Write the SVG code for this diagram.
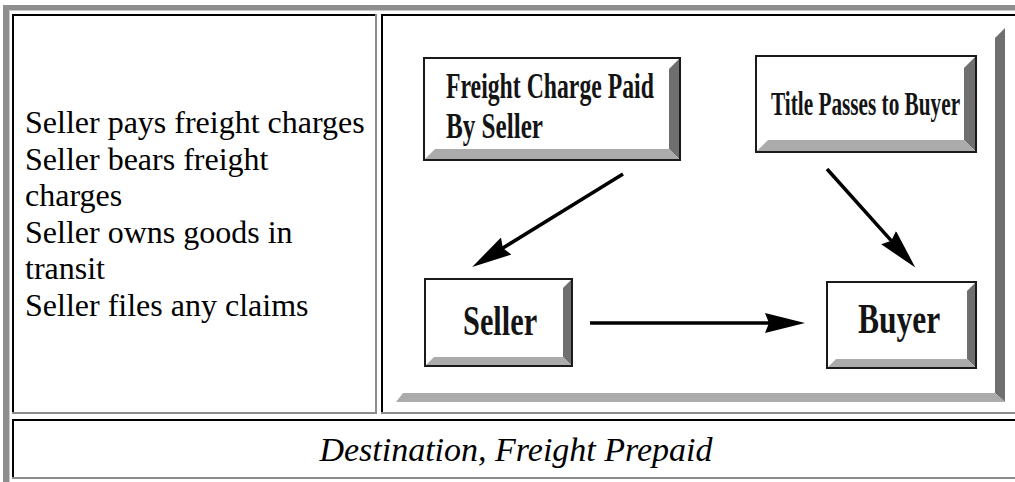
<svg xmlns="http://www.w3.org/2000/svg" width="1015" height="482" viewBox="0 0 1015 482">
<defs>
<style>
.txt{font-family:"Liberation Serif","Times New Roman",serif;font-size:32px;fill:#000}
.cap{font-style:italic;font-size:34px}
.box{fill:#fff;stroke:#1a1a1a;stroke-width:2}
.edge{fill:none;stroke:#1a1a1a;stroke-width:2}
.bevD{fill:#6f6f6f}
.bevL{fill:#ababab}
.lbl{font-family:"Liberation Serif","Times New Roman",serif;font-weight:bold;fill:#141414}
.conn{stroke:#000;stroke-width:3.5;fill:none;marker-end:url(#ah)}
.bk{fill:#000}
.gr{fill:#8c8c8c}
.og{fill:#8e8e8e}
</style>
<marker id="ah" markerUnits="userSpaceOnUse" markerWidth="40" markerHeight="20" viewBox="0 0 40 20" refX="12" refY="10" orient="auto"><path d="M0,0 L40,10 L0,20 L4,10 Z" fill="#000"/></marker>
</defs>
<rect width="1015" height="482" fill="#fff"/>
<g id="table">
<rect class="og" x="3" y="5" width="1012" height="5"/>
<rect class="og" x="3" y="5" width="6" height="477"/>
<rect x="9" y="10" width="1" height="472" fill="#c8c8c8"/>
<rect x="9" y="10" width="1006" height="1" fill="#c8c8c8"/>
<rect class="bk" x="12" y="14" width="2" height="400"/>
<rect class="bk" x="12" y="14" width="365" height="2"/>
<rect class="gr" x="375" y="14" width="2" height="400"/>
<rect class="gr" x="12" y="412" width="365" height="2"/>
<rect class="bk" x="381" y="14" width="2" height="400"/>
<rect class="bk" x="381" y="14" width="634" height="2"/>
<rect class="gr" x="381" y="412" width="634" height="2"/>
<rect class="bk" x="12" y="419" width="2" height="60"/>
<rect class="bk" x="12" y="419" width="1003" height="2"/>
<rect class="gr" x="12" y="477" width="1003" height="2"/>
</g>
<g id="terms">
<text class="txt" x="25" y="133">Seller pays freight charges</text>
<text class="txt" x="25" y="169.5">Seller bears freight</text>
<text class="txt" x="25" y="206">charges</text>
<text class="txt" x="25" y="242.5">Seller owns goods in</text>
<text class="txt" x="25" y="279">transit</text>
<text class="txt" x="25" y="315.5">Seller files any claims</text>
</g>
<g id="caption">
<text class="txt cap" x="516" y="461" text-anchor="middle">Destination, Freight Prepaid</text>
</g>
<g id="frame">
<polygon class="bevD" points="995,38 1005,28 1005,402 995,393"/>
<polygon class="bevL" points="396,402 1005,402 995,393 403,393"/>
</g>
<g id="freight">
<rect class="box" x="424" y="58" width="256" height="102"/>
<polygon class="bevD" points="680,58 680,160 669,149 669,69"/>
<polygon class="bevL" points="424,160 680,160 669,149 435,149"/>
<rect class="edge" x="424" y="58" width="256" height="102"/>
<text class="lbl" font-size="36" transform="translate(446 98) scale(0.66 1)" textLength="315" lengthAdjust="spacingAndGlyphs">Freight Charge Paid</text>
<text class="lbl" font-size="36" transform="translate(446 138) scale(0.66 1)" textLength="147" lengthAdjust="spacingAndGlyphs">By Seller</text>
</g>
<g id="title">
<rect class="box" x="756" y="56" width="220" height="96"/>
<polygon class="bevD" points="976,56 976,152 964,140 964,68"/>
<polygon class="bevL" points="756,152 976,152 964,140 768,140"/>
<rect class="edge" x="756" y="56" width="220" height="96"/>
<text class="lbl" font-size="34" transform="translate(771 115) scale(0.624 1)" textLength="303" lengthAdjust="spacingAndGlyphs">Title Passes to Buyer</text>
</g>
<g id="seller">
<rect class="box" x="425" y="279" width="147" height="87"/>
<polygon class="bevD" points="572,279 572,366 563,357 563,288"/>
<polygon class="bevL" points="425,366 572,366 563,357 434,357"/>
<rect class="edge" x="425" y="279" width="147" height="87"/>
<text class="lbl" font-size="42" transform="translate(463 335) scale(0.72 1)" textLength="103" lengthAdjust="spacingAndGlyphs">Seller</text>
</g>
<g id="buyer">
<rect class="box" x="827" y="282" width="149" height="86"/>
<polygon class="bevD" points="976,282 976,368 967,359 967,291"/>
<polygon class="bevL" points="827,368 976,368 967,359 836,359"/>
<rect class="edge" x="827" y="282" width="149" height="86"/>
<text class="lbl" font-size="42" transform="translate(858 333) scale(0.748 1)" textLength="110" lengthAdjust="spacingAndGlyphs">Buyer</text>
</g>
<g id="connectors">
<line class="conn" x1="623" y1="174" x2="496" y2="252.3"/>
<line class="conn" x1="827" y1="169" x2="896.6" y2="246.6"/>
<line class="conn" x1="590" y1="323" x2="777" y2="323"/>
</g>
</svg>
